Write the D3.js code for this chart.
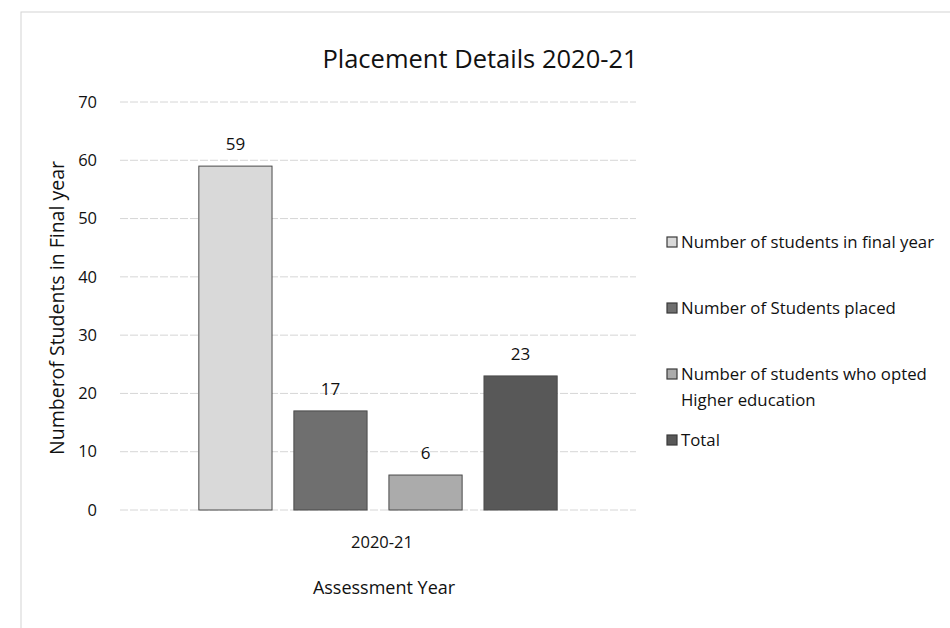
<!DOCTYPE html>
<html>
<head>
<meta charset="utf-8">
<script src="https://cdn.jsdelivr.net/npm/d3@7"></script>
<style>
  body { margin: 0; background: #fff; }
  svg text { font-family: "Open Sans", "DejaVu Sans", sans-serif; fill: #111; }
</style>
</head>
<body>
<div id="plotSect"></div>
<script>
// data
let years = ["2020-21"];
let seriesNames = [
    "Number of students in final year",
    "Number of Students placed",
    "Number of students who opted Higher education",
    "Total"
];
let seriesValues = [59, 17, 6, 23];
let seriesColors = ["#d9d9d9", "#6f6f6f", "#ababab", "#585858"];
let yTicks = [0, 10, 20, 30, 40, 50, 60, 70];

let SVGwidth = 950,
    SVGheight = 628;

let plot = {left: 120, right: 636, top: 102, bottom: 510};

let svg = d3.select("#plotSect").append("svg")
    .attr("width", SVGwidth)
    .attr("height", SVGheight);

// faint chart border, as on the printed page
svg.append("rect")
    .attr("x", 21).attr("y", 12)
    .attr("width", 960).attr("height", 640)
    .attr("fill", "none")
    .attr("stroke", "#d4d4d4")
    .attr("stroke-width", 1);

let yScale = d3.scaleLinear()
    .domain([0, 70])
    .range([plot.bottom, plot.top]);

let xScale = d3.scaleBand()
    .domain(years)
    .range([plot.left, plot.right])
    .paddingOuter(0.22)
    .paddingInner(0);

let xInner = d3.scaleBand()
    .domain(seriesNames)
    .range([0, xScale.bandwidth()])
    .paddingInner(0.23)
    .paddingOuter(0);

// gridlines
svg.append("g")
    .attr("class", "grid")
    .selectAll("line")
    .data(yTicks)
    .enter().append("line")
    .attr("x1", plot.left)
    .attr("x2", plot.right)
    .attr("y1", d => yScale(d))
    .attr("y2", d => yScale(d))
    .attr("stroke", "#d6d6d6")
    .attr("stroke-width", 1)
    .attr("stroke-dasharray", "8,2");

// y axis labels
let yAxis = d3.axisLeft(yScale).tickValues(yTicks).tickSize(0).tickPadding(23);
svg.append("g")
    .attr("class", "yAxis")
    .attr("transform", "translate(" + plot.left + ",0)")
    .call(yAxis)
    .call(g => g.select(".domain").remove())
    .selectAll("text")
    .style("font-size", "16.5px")
    .style("font-family", "'Open Sans', sans-serif")
    .attr("fill", "#111");

// x axis labels
let xAxis = d3.axisBottom(xScale).tickSize(0).tickPadding(26);
svg.append("g")
    .attr("class", "xAxis")
    .attr("transform", "translate(4," + plot.bottom + ")")
    .call(xAxis)
    .call(g => g.select(".domain").remove())
    .selectAll("text")
    .style("font-size", "16.5px")
    .style("font-family", "'Open Sans', sans-serif")
    .attr("fill", "#111");

// bars
let groups = svg.selectAll(".year")
    .data(years)
    .enter().append("g")
    .attr("class", "year")
    .attr("transform", d => "translate(" + xScale(d) + ",0)");

let barData = seriesNames.map((name, i) => ({name: name, value: seriesValues[i], color: seriesColors[i]}));

groups.selectAll(".bar")
    .data(barData)
    .enter().append("rect")
    .attr("class", "bar")
    .attr("x", d => xInner(d.name))
    .attr("y", d => yScale(d.value))
    .attr("width", xInner.bandwidth())
    .attr("height", d => yScale(0) - yScale(d.value))
    .attr("fill", d => d.color)
    .attr("stroke", "#4a4a4a")
    .attr("stroke-width", 1);

groups.selectAll(".barLabel")
    .data(barData)
    .enter().append("text")
    .attr("class", "barLabel")
    .attr("x", d => xInner(d.name) + xInner.bandwidth() / 2)
    .attr("y", d => yScale(d.value) - 16)
    .style("text-anchor", "middle")
    .style("font-size", "17px")
    .text(d => d.value);

// title
svg.append("text")
    .attr("x", 480)
    .attr("y", 68)
    .style("text-anchor", "middle")
    .style("font-size", "25.5px")
    .text("Placement Details 2020-21");

// axis titles
svg.append("text")
    .attr("transform", "translate(64," + ((plot.top + plot.bottom) / 2 + 2) + ") rotate(-90)")
    .style("text-anchor", "middle")
    .style("font-size", "19.5px")
    .text("Numberof Students in Final year");

svg.append("text")
    .attr("x", 384)
    .attr("y", 594)
    .style("text-anchor", "middle")
    .style("font-size", "18px")
    .text("Assessment Year");

// legend
let legendY = [242, 308, 374, 440];
let legend = svg.selectAll(".legend")
    .data(barData)
    .enter().append("g")
    .attr("class", "legend")
    .attr("transform", (d, i) => "translate(667," + legendY[i] + ")");

legend.append("rect")
    .attr("x", 0)
    .attr("y", -5)
    .attr("width", 10)
    .attr("height", 10)
    .attr("fill", d => d.color)
    .attr("stroke", "#3a3a3a")
    .attr("stroke-width", 1.2);

legend.append("text")
    .attr("x", 14)
    .attr("y", 6)
    .style("font-size", "16.8px")
    .each(function(d) {
        let t = d3.select(this);
        if (d.name == "Number of students who opted Higher education") {
            t.append("tspan").attr("x", 14).text("Number of students who opted");
            t.append("tspan").attr("x", 14).attr("dy", 26).text("Higher education");
        } else {
            t.text(d.name);
        }
    });
</script>
</body>
</html>
